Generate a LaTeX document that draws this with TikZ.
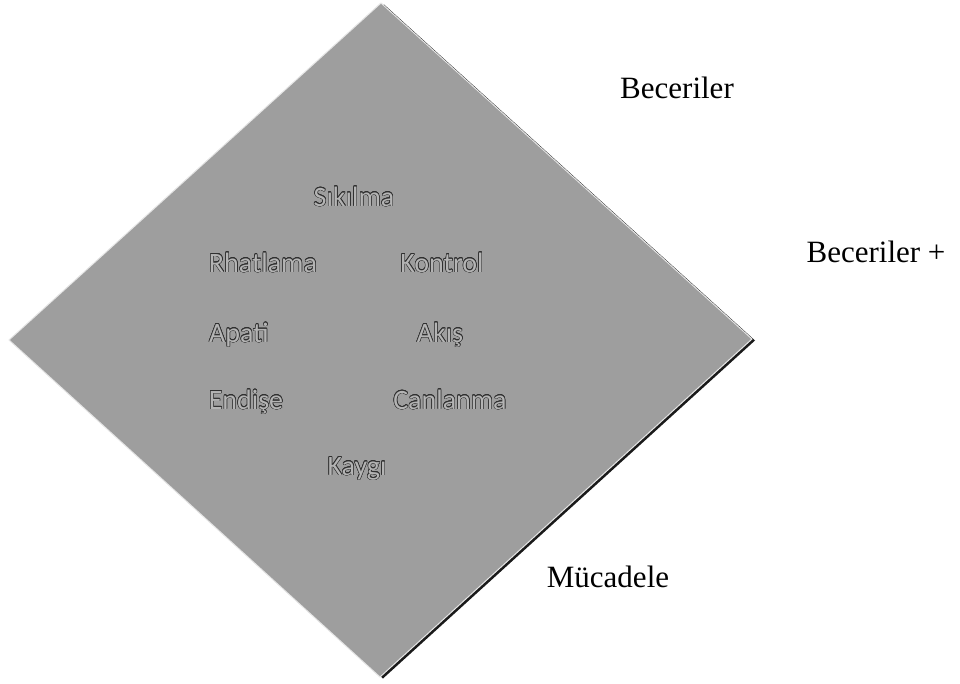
\documentclass[tikz,border=0pt]{standalone}
\usepackage{fontspec}
\setmainfont{Liberation Serif}
\newfontfamily\calib{Carlito}
\usepackage[copies]{contour}
\contourlength{0.5pt}
\contournumber{16}
\definecolor{dmfill}{HTML}{9E9E9E}
\definecolor{dmshadow}{HTML}{1A1A1A}
\definecolor{dmtext}{HTML}{B4B4B4}
\definecolor{dmedge}{HTML}{303030}
\tikzset{
  state/.style={anchor=base, inner sep=0pt, font=\calib\fontsize{28}{30}\selectfont},
  axislabel/.style={anchor=base, inner sep=0pt, font=\fontsize{31}{33}\selectfont, text=black}
}
\newcommand{\emb}[1]{\contour{dmedge}{\textcolor{dmtext}{#1}}}
\begin{document}
\begin{tikzpicture}[x=1pt,y=-1pt]
\useasboundingbox (0,0) rectangle (960,683);
% diamond with shadow
\coordinate (T) at (381,3);
\coordinate (R) at (752,339);
\coordinate (B) at (380,677);
\coordinate (L) at (9,340);
\fill[dmshadow] ([shift={(3,1.5)}]T) -- ([shift={(3,1.5)}]R) -- ([shift={(3,1.5)}]B) -- ([shift={(3,1.5)}]L) -- cycle;
\filldraw[fill=dmfill, draw=white!80!gray, line width=1pt] (T) -- (R) -- (B) -- (L) -- cycle;
% state labels
\node[state] (sik) at (354,206) {\emb{Sıkılma}};
\node[state] (rha) at (263,272) {\emb{Rhatlama}};
\node[state] (kon) at (442,272) {\emb{Kontrol}};
\node[state] (apa) at (239,342) {\emb{Apati}};
\node[state] (aki) at (440,342) {\emb{Akış}};
\node[state] (end) at (246,409) {\emb{Endişe}};
\node[state] (can) at (450,409) {\emb{Canlanma}};
\node[state] (kay) at (357,475) {\emb{Kaygı}};
% axis labels
\node[axislabel] (bec) at (677,98) {Beceriler};
\node[axislabel] (becp) at (876,262) {Beceriler +};
\node[axislabel] (muc) at (608,587) {Mücadele};
\end{tikzpicture}
\end{document}
